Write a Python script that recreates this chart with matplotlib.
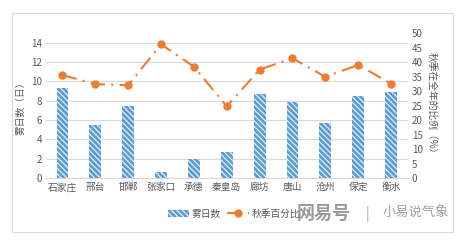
import matplotlib.pyplot as plt
import matplotlib.patches as patches

plt.rcParams['font.family'] = ['Noto Sans CJK SC', 'DejaVu Sans']
plt.rcParams['hatch.linewidth'] = 0.9

# Data
cities = ['石家庄', '邢台', '邯郸', '张家口', '承德', '秦皇岛',
          '廊坊', '唐山', '沧州', '保定', '衡水']
fog_days = [9.3, 5.5, 7.5, 0.6, 2.0, 2.7, 8.7, 7.9, 5.7, 8.5, 8.9]
autumn_pct = [35.5, 32.4, 32.0, 46.1, 38.4, 24.7, 37.4, 41.3, 34.9, 39.0, 32.5]

fig = plt.figure(figsize=(4.61, 2.40), dpi=100)
ax = fig.add_axes([0.0998, 0.258, 0.7842, 0.6045])
ax2 = ax.twinx()

x = range(len(cities))
ax.bar(x, fog_days, width=0.36, color='#5B9BD5', edgecolor='#E3EEF8',
       linewidth=0, hatch='\\\\\\\\\\\\', label='雾日数', zorder=2)
ax2.plot(x, autumn_pct, color='#ED7D31', linewidth=1.5, dashes=(7, 3, 1, 3),
         marker='o', markersize=5, label='秋季百分比', zorder=3)

ax.set_xlim(-0.5, len(cities) - 0.5)
ax.set_ylim(0, 15)
ax.set_yticks(range(0, 15, 2))
ax2.set_ylim(0, 50)
ax2.set_yticks(range(0, 51, 5))
ax.set_xticks(list(x))
ax.set_xticklabels(cities)

ax.grid(axis='y', color='#D9D9D9', linewidth=0.8, zorder=0)
ax.set_axisbelow(True)
for a in (ax, ax2):
    for s in a.spines.values():
        s.set_visible(False)
    a.tick_params(length=0, labelsize=7, colors='#595959', pad=3)
ax.spines['bottom'].set_visible(True)
ax.spines['bottom'].set_color('#D9D9D9')

ax.set_ylabel('雾日数（日）', fontsize=7, color='#595959', labelpad=4)
ax2.set_ylabel('秋季在全年的比例（%）', fontsize=7, color='#595959',
               rotation=270, labelpad=10)

h1, l1 = ax.get_legend_handles_labels()
h2, l2 = ax2.get_legend_handles_labels()
fig.legend(h1 + h2, l1 + l2, loc='center left', bbox_to_anchor=(0.345, 0.11),
           ncol=2, frameon=False, fontsize=7, handlelength=2.2,
           handletextpad=0.3, columnspacing=0.6, labelcolor='#595959')

fig.text(0.644, 0.11, '网易号', fontsize=13, color='#9A9A9A', va='center',
         ha='left', fontweight='bold',
         bbox=dict(facecolor='white', edgecolor='none', alpha=0.6, pad=0))
fig.text(0.796, 0.11, '|', fontsize=10, color='#A0A0A0', va='center', ha='center')
fig.text(0.83, 0.11, '小易说气象', fontsize=9.5, color='#A0A0A0',
         va='center', ha='left')

fig.patches.append(patches.Rectangle((12 / 461, 8 / 240), 441 / 461, 219 / 240,
                                     transform=fig.transFigure, fill=False,
                                     edgecolor='#D9D9D9', linewidth=0.8))

fig.savefig('out.png', dpi=100)
